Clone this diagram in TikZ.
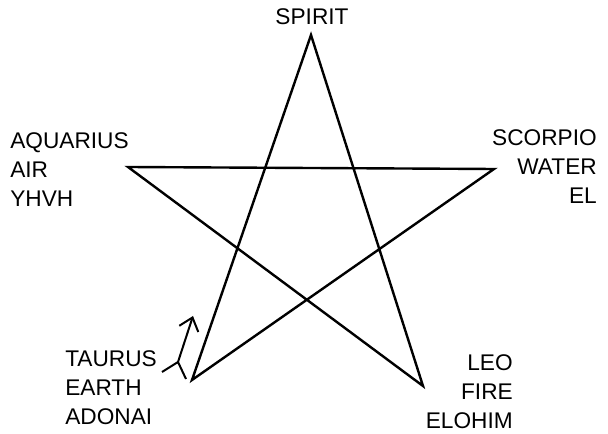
\documentclass[tikz,border=0pt]{standalone}
\usepackage{fontspec}
\setmainfont{Liberation Sans}
\usetikzlibrary{arrows.meta}

\begin{document}
\begin{tikzpicture}[
        x=0.75pt, y=-0.75pt,
        star/.style={line width=1.8pt, line join=miter},
        pointer/.style={-{Straight Barb[length=9pt,width=15pt]}, line width=1.5pt},
        label/.style={inner sep=0pt, font=\fontsize{17}{21.75}\selectfont}
      ]
      \useasboundingbox (0,0) rectangle (608,434);
      % points of the star
      \coordinate (spirit) at (311,35);
      \coordinate (air) at (128,167);
      \coordinate (water) at (494,169);
      \coordinate (earth) at (192,380);
      \coordinate (fire) at (423,386);
      \draw[star] (spirit) -- (earth) -- (water) -- (air) -- (fire) -- cycle;
      % names at the points
      \node[label, anchor=north] (lspirit) at (312,8) {SPIRIT};
      \node[label, anchor=north west, align=left] (lair) at (10,132) {AQUARIUS\\AIR\\YHVH};
      \node[label, anchor=north east, align=right] (lwater) at (597,129) {SCORPIO\\WATER\\EL};
      \node[label, anchor=north west, align=left] (learth) at (65,350) {TAURUS\\EARTH\\ADONAI};
      \node[label, anchor=north east, align=right] (lfire) at (513,354) {LEO\\FIRE\\ELOHIM};
      % the mark by taurus
      \coordinate (mstart) at (162,372);
      \coordinate (mfork) at (178,362);
      \coordinate (mfoot) at (186,379);
      \coordinate (mtip) at (193,316);
      \draw[line width=1.5pt] (mstart) -- (mfork) -- (mfoot);
      \draw[pointer] (mfork) -- (mtip);
    \end{tikzpicture}
\end{document}
